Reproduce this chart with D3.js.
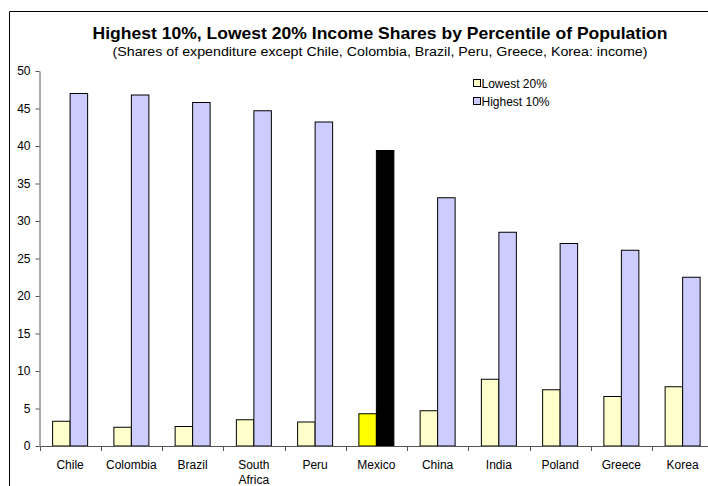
<!DOCTYPE html>
<html>
<head>
<meta charset="utf-8">
<script src="https://cdn.jsdelivr.net/npm/d3@7"></script>
<style>
  html, body { margin: 0; padding: 0; background: #fff; overflow: hidden; }
  svg { display: block; font-family: "Liberation Sans", Arial, sans-serif; }
</style>
</head>
<body>
<svg id="chart" width="708" height="486"></svg>
<script>
// ── data ──
const countries = ['Chile', 'Colombia', 'Brazil', 'South Africa', 'Peru', 'Mexico',
                   'China', 'India', 'Poland', 'Greece', 'Korea'];
const lowest20  = [3.3, 2.5, 2.6, 3.5, 3.2, 4.3, 4.7, 8.9, 7.5, 6.6, 7.9];
const highest10 = [47.0, 46.8, 45.8, 44.7, 43.2, 39.4, 33.1, 28.5, 27.0, 26.1, 22.5];
const yTicks = [0, 5, 10, 15, 20, 25, 30, 35, 40, 45, 50];
const seriesNames = ['Lowest 20%', 'Highest 10%'];
const highlight = 'Mexico';

const svg = d3.select('#chart');

// chart frame (right/bottom edges fall outside the picture)
svg.append('path')
  .attr('d', 'M9.5,486V11.5H708')
  .attr('fill', 'none')
  .attr('stroke', '#000')
  .attr('stroke-width', 1);

// titles
svg.append('text')
  .attr('x', 380).attr('y', 39)
  .attr('text-anchor', 'middle')
  .attr('font-size', 17).attr('font-weight', 'bold')
  .attr('textLength', 575).attr('lengthAdjust', 'spacingAndGlyphs')
  .text('Highest 10%, Lowest 20% Income Shares by Percentile of Population');
svg.append('text')
  .attr('x', 380).attr('y', 56)
  .attr('text-anchor', 'middle')
  .attr('font-size', 12.5)
  .attr('textLength', 535).attr('lengthAdjust', 'spacingAndGlyphs')
  .text('(Shares of expenditure except Chile, Colombia, Brazil, Peru, Greece, Korea: income)');

// scales
const x = d3.scaleBand().domain(countries).range([39.5, 39.5 + 11 * 61.25]);
const y = d3.scaleLinear().domain([0, 50]).range([446, 71]);
const barW = x.bandwidth() / 3.5;

// bars
const g = svg.append('g');
countries.forEach((c, i) => {
  const x0 = x(c) + (x.bandwidth() - 2 * barW) / 2;
  const isHi = c === highlight;
  g.append('rect')
    .attr('x', x0).attr('y', y(lowest20[i]))
    .attr('width', barW).attr('height', y(0) - y(lowest20[i]))
    .attr('fill', isHi ? '#ffff00' : '#ffffcc')
    .attr('stroke', '#000').attr('stroke-width', 1);
  g.append('rect')
    .attr('x', x0 + barW).attr('y', y(highest10[i]))
    .attr('width', barW).attr('height', y(0) - y(highest10[i]))
    .attr('fill', isHi ? '#000000' : '#ccccff')
    .attr('stroke', '#000').attr('stroke-width', 1);
});

// y axis
const yAxis = svg.append('g')
  .attr('transform', 'translate(39.5,0)')
  .call(d3.axisLeft(y).tickValues(yTicks).tickSize(4).tickSizeOuter(0));
yAxis.select('.domain').attr('stroke', '#555');
yAxis.selectAll('.tick line').attr('stroke', '#555');
yAxis.selectAll('.tick text')
  .attr('font-size', 12).attr('font-family', null).attr('fill', '#000')
  .attr('x', -9);

// x axis: baseline and ticks at band boundaries
svg.append('line')
  .attr('x1', 39.5).attr('x2', 708)
  .attr('y1', y(0) + 0.5).attr('y2', y(0) + 0.5)
  .attr('stroke', '#555');
svg.selectAll('.xtick')
  .data(countries)
  .join('line')
  .attr('x1', d => Math.round(x(d)) + 0.5).attr('x2', d => Math.round(x(d)) + 0.5)
  .attr('y1', y(0)).attr('y2', y(0) + 5)
  .attr('stroke', '#555');

// x labels
countries.forEach(c => {
  const words = c.split(' ');
  const t = svg.append('text')
    .attr('x', x(c) + x.bandwidth() / 2)
    .attr('y', 469)
    .attr('text-anchor', 'middle')
    .attr('font-size', 12);
  words.forEach((w, k) => {
    t.append('tspan')
      .attr('x', x(c) + x.bandwidth() / 2)
      .attr('dy', k === 0 ? 0 : 15)
      .text(w);
  });
});

// legend
const leg = svg.append('g').attr('transform', 'translate(473,79)');
seriesNames.forEach((n, i) => {
  leg.append('rect')
    .attr('x', 0.5).attr('y', i * 18 + 0.5)
    .attr('width', 7).attr('height', 7)
    .attr('fill', i === 0 ? '#ffffcc' : '#ccccff')
    .attr('stroke', '#000');
  leg.append('text')
    .attr('x', 8.5).attr('y', i * 18 + 8.5)
    .attr('font-size', 12)
    .text(n);
});
</script>
</body>
</html>
